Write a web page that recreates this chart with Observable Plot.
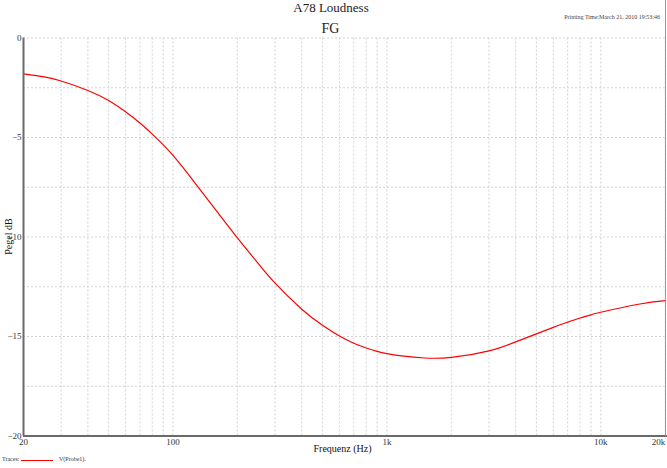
<!DOCTYPE html>
<html>
<head>
<meta charset="utf-8">
<script src="https://cdn.jsdelivr.net/npm/d3@7"></script>
<script src="https://cdn.jsdelivr.net/npm/@observablehq/plot@0.6"></script>
<style>
  html, body { margin: 0; padding: 0; background: #fff; }
  #wrap { position: relative; width: 667px; height: 468px; overflow: hidden; font-family: "Liberation Serif", "DejaVu Serif", serif; color: #222; }
  #wrap svg { position: absolute; left: 0; top: 0; }
  .t { position: absolute; white-space: nowrap; }
</style>
</head>
<body>
<div id="wrap">
  <div class="t" style="left:0;width:662px;top:0px;text-align:center;font-size:13px;line-height:15px;">A78 Loudness</div>
  <div class="t" style="right:7px;top:14px;font-size:6px;color:#444;">Printing Time:March 21, 2010 19:53:46</div>
  <div class="t" style="left:0;width:661px;top:21px;text-align:center;font-size:14px;">FG</div>
  <div class="t" style="left:0;width:685px;top:443px;text-align:center;font-size:10px;color:#111;">Frequenz (Hz)</div>
  <div class="t" style="left:-22px;top:231px;width:60px;text-align:center;font-size:10px;transform:rotate(-90deg);color:#111;">Pegel dB</div>
  <div class="t" style="left:2px;top:456px;font-size:6px;color:#333;">Traces:</div>
  <div class="t" style="left:21px;top:459.5px;width:32px;height:1.5px;background:#ff0000;"></div>
  <div class="t" style="left:59px;top:456px;font-size:6px;color:#333;">V(Probe1).</div>
</div>
<script>
// Frequency (Hz) and level (dB)
const freq = [20, 25, 30, 40, 50, 60, 70, 80, 100, 130, 150, 167, 200, 250, 300, 400, 500, 600, 700, 800, 900, 1000, 1200, 1500, 2000, 3000, 4000, 5000, 6000, 7000, 8000, 9000, 10000, 15000, 20000];
const level = [-1.80, -1.955, -2.16, -2.635, -3.14, -3.71, -4.27, -4.83, -5.90, -7.44, -8.31, -8.96, -10.04, -11.33, -12.32, -13.63, -14.44, -14.98, -15.34, -15.58, -15.75, -15.86, -15.99, -16.08, -16.05, -15.72, -15.27, -14.87, -14.54, -14.28, -14.07, -13.91, -13.78, -13.38, -13.20];

const yGrid = [0, -2.5, -5, -7.5, -10, -12.5, -15, -17.5, -20];
const yTicks = [0, -5, -10, -15, -20];
const xGrid = [30, 40, 50, 60, 70, 80, 90, 100, 200, 300, 400, 500, 600, 700, 800, 900, 1000, 2000, 3000, 4000, 5000, 6000, 7000, 8000, 9000, 10000, 20000];
const xTicks = [20, 100, 1000, 10000];
const xTickLast = [20000];
const xTickLabels = {20: "20", 100: "100", 1000: "1k", 10000: "10k", 20000: "20k"};

const data = freq.map((f, i) => ({f, db: level[i]}));

const chart = Plot.plot({
  width: 667,
  height: 468,
  marginTop: 37.5,
  marginBottom: 32.5,
  marginLeft: 23,
  marginRight: 2.3,
  style: {fontFamily: "Liberation Serif, serif", background: "transparent"},
  x: {type: "log", domain: [20, 20000], axis: null},
  y: {domain: [-20, 0], axis: null},
  marks: [
    Plot.ruleY(yGrid, {stroke: "#d2d2d2", strokeDasharray: "2,2", strokeWidth: 1}),
    Plot.ruleX(xGrid, {stroke: "#d2d2d2", strokeDasharray: "2,2", strokeWidth: 1}),
    Plot.line(data, {x: "f", y: "db", stroke: "#ff0000", strokeWidth: 1.2, curve: "natural"}),
    Plot.ruleX([20], {stroke: "#6a6a6a", strokeWidth: 2}),
    Plot.ruleY([-20], {stroke: "#6a6a6a", strokeWidth: 2, x1: 20, x2: 21000}),
    Plot.axisY(yTicks, {tickSize: 0, tickPadding: 2, fontSize: 9, fill: "#333", label: null}),
    Plot.text(xTicks, {x: d => d, frameAnchor: "bottom", dy: 3, text: d => xTickLabels[d], fontSize: 9, fill: "#333", lineAnchor: "top"}),
    Plot.text(xTickLast, {x: d => d, frameAnchor: "bottom", dy: 3, text: d => xTickLabels[d], fontSize: 9, fill: "#333", lineAnchor: "top", textAnchor: "end"})
  ]
});
chart.style.overflow = "visible";
document.getElementById("wrap").prepend(chart);

// right border line
const svg = d3.select(chart);
svg.append("line").attr("x1", 665.5).attr("x2", 665.5).attr("y1", 0).attr("y2", 436).attr("stroke", "#999").attr("stroke-width", 1);
</script>
</body>
</html>
